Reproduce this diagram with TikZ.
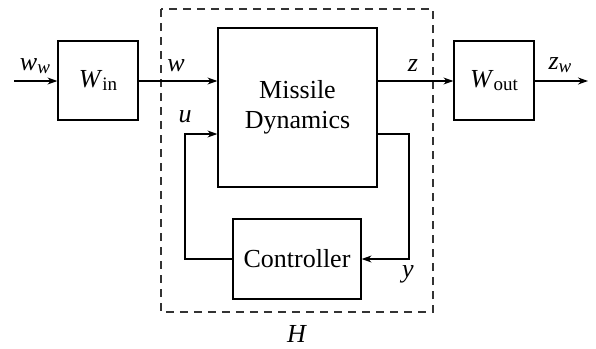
\documentclass[tikz,border=0pt]{standalone}
\usepackage{fontspec}
\setmainfont{Liberation Serif}
\usetikzlibrary{arrows.meta}
\newcommand{\ssub}[1]{\raisebox{-0.3ex}{\fontsize{9.5}{10}\selectfont #1}}
\begin{document}
\begin{tikzpicture}[x=0.5pt,y=-0.5pt,
  sig/.style={line width=0.6pt,-{Stealth[length=5pt,width=3.5pt]}},
  every node/.style={font=\fontsize{13}{15}\selectfont}]
\useasboundingbox (0,0) rectangle (596,349);
% dashed box
\draw[line width=0.6pt,dash pattern=on 4pt off 3pt,black!80] (161,9) rectangle (433,312);
% blocks
\node[draw,line width=0.6pt,minimum width=40pt,minimum height=39.5pt,inner sep=0pt] (win) at (98,80.5) {\textit{W}\ssub{in}};
\node[draw,line width=0.6pt,minimum width=40pt,minimum height=39.5pt,inner sep=0pt] (wout) at (494,80.5) {\textit{W}\ssub{out}};
\node[draw,line width=0.6pt,minimum width=79.5pt,minimum height=79.5pt,inner sep=0pt,align=center] (mis) at (297.5,107.5) {Missile\\Dynamics};
\node[draw,line width=0.6pt,minimum width=64pt,minimum height=40pt,inner sep=0pt] (ctrl) at (297,259) {Controller};
% coordinates
\coordinate (in) at (14,81);
\coordinate (out) at (588,81);
\coordinate (yr) at (409,134);
\coordinate (ul) at (185,259);
% signals
\draw[sig] (in) -- (win.west |- in);
\draw[sig] (win.east |- in) -- (mis.west |- in);
\draw[sig] (mis.east |- in) -- (wout.west |- in);
\draw[sig] (wout.east |- out) -- (out);
\draw[sig] (mis.east |- yr) -- (yr) -- (yr |- ctrl.east) -- (ctrl.east);
\draw[sig] (ctrl.west) -- (ul) -- (ul |- yr) -- (mis.west |- yr);
% labels
\node (lww) at (35,66) {\textit{w}\ssub{\textit{w}}};
\node (lw) at (176,66) {\textit{w}};
\node (lz) at (413,66) {\textit{z}};
\node (lzw) at (560,65) {\textit{z}\ssub{\textit{w}}};
\node (lu) at (185,117) {\textit{u}};
\node (ly) at (408,274) {\textit{y}};
\node (lh) at (297,334) {\textit{H}};
\end{tikzpicture}
\end{document}
